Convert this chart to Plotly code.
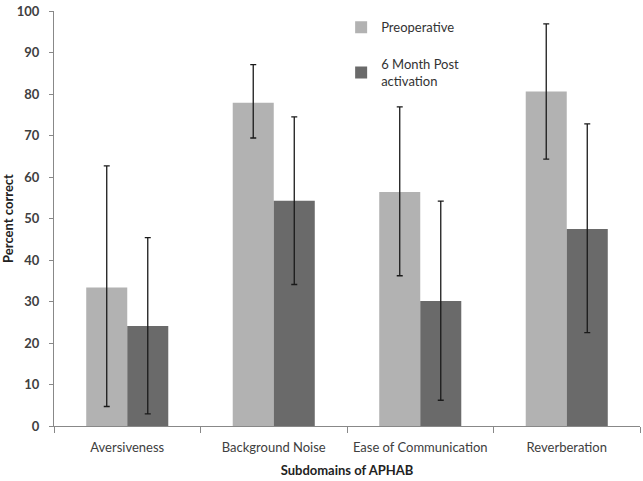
import plotly.graph_objects as go

categories = ["Aversiveness", "Background Noise", "Ease of Communication", "Reverberation"]
pre_values = [33.4, 77.9, 56.4, 80.6]
pre_err_upper = [62.7, 87.1, 76.9, 96.9]
pre_err_lower = [4.7, 69.4, 36.2, 64.3]
post_values = [24.1, 54.3, 30.1, 47.5]
post_err_upper = [45.4, 74.5, 54.2, 72.8]
post_err_lower = [2.9, 34.1, 6.2, 22.5]
y_ticks = [0, 10, 20, 30, 40, 50, 60, 70, 80, 90, 100]

FONT = "Lato, Open Sans, sans-serif"

def err(vals, up, lo):
    return dict(type="data", symmetric=False,
                array=[u - v for u, v in zip(up, vals)],
                arrayminus=[v - l for v, l in zip(vals, lo)],
                color="#1a1a1a", thickness=1.3, width=3)

fig = go.Figure()
fig.add_trace(go.Bar(x=categories, y=pre_values, name="Preoperative",
                     marker=dict(color="#b2b2b2", line=dict(width=0)),
                     error_y=err(pre_values, pre_err_upper, pre_err_lower),
                     legendgroup="a"))
fig.add_trace(go.Bar(x=categories, y=post_values, name="6 Month Post<br>activation",
                     marker=dict(color="#6a6a6a", line=dict(width=0)),
                     error_y=err(post_values, post_err_upper, post_err_lower),
                     legendgroup="b"))

fig.update_layout(
    width=643, height=481,
    margin=dict(l=54, r=3, t=11, b=55),
    paper_bgcolor="white", plot_bgcolor="white",
    barmode="group", bargap=0.44, bargroupgap=0,
    font=dict(family=FONT, size=13, color="#333333"),
    showlegend=True,
    legend=dict(x=0.49, y=0.997, xanchor="left", yanchor="top",
                traceorder="grouped", tracegroupgap=17,
                font=dict(size=13, color="#333333"),
                itemwidth=30, bgcolor="rgba(0,0,0,0)"),
    xaxis=dict(showline=True, linecolor="#888888", linewidth=1,
               ticks="outside", ticklen=6, tickcolor="#888888",
               tickson="boundaries", ticklabelstandoff=9, automargin=False,
               title=dict(text="<b>Subdomains of APHAB</b>", font=dict(size=13, color="#222222"), standoff=12),
               tickfont=dict(size=13, color="#404040")),
    yaxis=dict(range=[0, 100], tickvals=y_ticks, showline=True, linecolor="#888888",
               linewidth=1, ticks="outside", ticklen=4, tickcolor="#888888",
               showgrid=False, zeroline=False, ticklabelstandoff=7, automargin=False,
               title=dict(text="<b>Percent correct</b>", font=dict(size=13, color="#222222"), standoff=0),
               tickfont=dict(size=13, color="#404040", weight="bold")),
)

fig.write_html("out.html", config={"displayModeBar": False},
               post_script="document.body.style.margin='0';")
